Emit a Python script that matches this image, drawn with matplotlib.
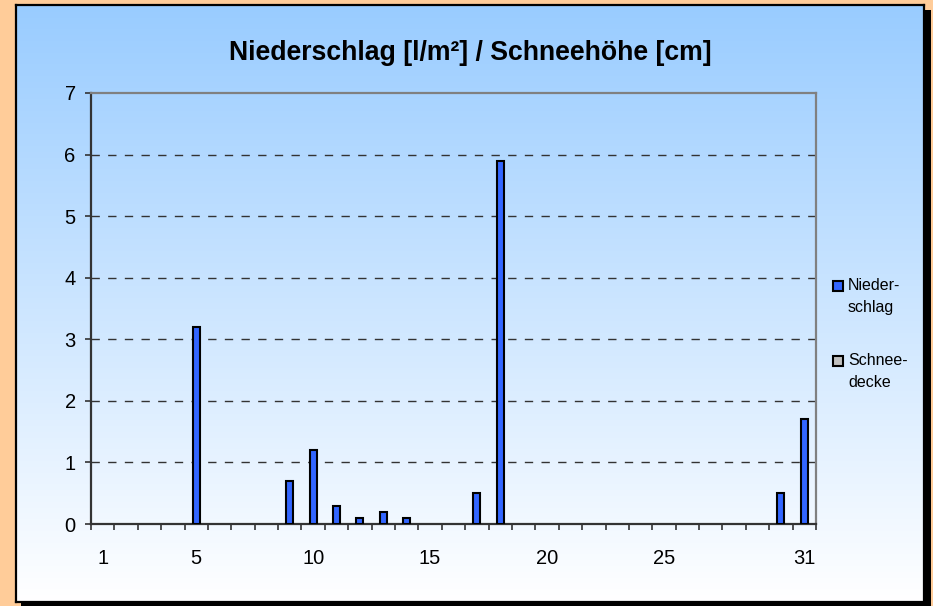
import matplotlib
matplotlib.use('Agg')
import matplotlib.pyplot as plt
from matplotlib.patches import Rectangle
import numpy as np

plt.rcParams['font.family'] = ['Liberation Sans', 'DejaVu Sans']

# Niederschlag per day (l/m²), days 1..31; Schneedecke all zero
days = list(range(1, 32))
niederschlag = [0, 0, 0, 0, 3.2, 0, 0, 0, 0.7, 1.2,
                0.3, 0.1, 0.2, 0.1, 0, 0, 0.5, 5.9, 0, 0,
                0, 0, 0, 0, 0, 0, 0, 0, 0, 0.5, 1.7]
schneedecke = [0] * 31
xtick_labels = [1, 5, 10, 15, 20, 25, 31]
title = "Niederschlag [l/m²] / Schneehöhe [cm]"
legend_labels = ["Nieder-\nschlag", "Schnee-\ndecke"]
colors = ["#3366FF", "#C0C0C0"]

W, H = 933, 606
fig = plt.figure(figsize=(W / 100, H / 100), dpi=100)
fig.patch.set_facecolor("#FFCC99")

def fx(px):
    return px / W

def fy(py):
    return 1 - py / H

# shadow + chart area box
fig.patches.append(Rectangle((fx(21), fy(609)), fx(931) - fx(21), fy(10) - fy(609),
                             transform=fig.transFigure, facecolor="black",
                             edgecolor="none", zorder=-1))
bg = fig.add_axes([fx(16), fy(602), fx(924) - fx(16), fy(5) - fy(602)], zorder=0)
grad = np.linspace(0, 1, 256).reshape(-1, 1)
top = np.array([0x99, 0xCC, 0xFF]) / 255
rgb = top[None, None, :] * (1 - grad[:, :, None]) + np.ones(3)[None, None, :] * grad[:, :, None]
bg.imshow(rgb, aspect="auto", extent=[0, 1, 0, 1], origin="upper")
bg.set_xlim(0, 1)
bg.set_ylim(0, 1)
bg.set_xticks([])
bg.set_yticks([])
for s in bg.spines.values():
    s.set_linewidth(1.6)
    s.set_color("black")

ax = fig.add_axes([fx(91), fy(524), fx(816) - fx(91), fy(93) - fy(524)], zorder=1)
ax.set_facecolor("none")
# zero values get no outline (Excel draws nothing there)
edges_n = ["black" if v > 0 else "none" for v in niederschlag]
edges_s = ["black" if v > 0 else "none" for v in schneedecke]
ax.bar(days, niederschlag, width=0.3, color=colors[0], edgecolor=edges_n,
       linewidth=1.5, zorder=3)
ax.bar(days, schneedecke, width=0.3, color=colors[1], edgecolor=edges_s,
       linewidth=1.5, zorder=3)

ax.set_xlim(0.5, 31.5)
ax.set_ylim(0, 7)
ax.set_yticks(range(0, 8))
ax.set_xticks(xtick_labels)
ax.set_xticklabels([str(v) for v in xtick_labels])
ax.set_xticks(np.arange(0.5, 32, 1), minor=True)
ax.tick_params(axis="x", which="major", length=0, pad=18, labelsize=14.5)
ax.tick_params(axis="x", which="minor", length=4, width=1.2, direction="out", color="#333333")
ax.tick_params(axis="y", length=4, width=1.2, direction="out", pad=7, labelsize=14.5,
               color="#333333")
for y in range(1, 7):
    ax.axhline(y, color="#333333", linewidth=1, linestyle=(0, (6, 6)), zorder=1)

ax.spines["left"].set_color("#333333")
ax.spines["bottom"].set_color("#333333")
ax.spines["top"].set_color("#808080")
ax.spines["right"].set_color("#808080")
for s in ax.spines.values():
    s.set_linewidth(1.6)

fig.text(fx(470), fy(59.5), title, ha="center", va="baseline",
         fontsize=19.2, fontweight="bold")

# legend
for i, (lab, c) in enumerate(zip(legend_labels, colors)):
    cy = 286 + i * 75
    fig.patches.append(Rectangle((fx(833), fy(cy + 5)), fx(10), 10 / H,
                                 transform=fig.transFigure, facecolor=c,
                                 edgecolor="black", linewidth=1.5, zorder=5))
    fig.text(fx(848), fy(cy - 8), lab, ha="left", va="top", fontsize=11.5,
             linespacing=1.62)

fig.savefig("out.png", dpi=100, facecolor=fig.get_facecolor())
